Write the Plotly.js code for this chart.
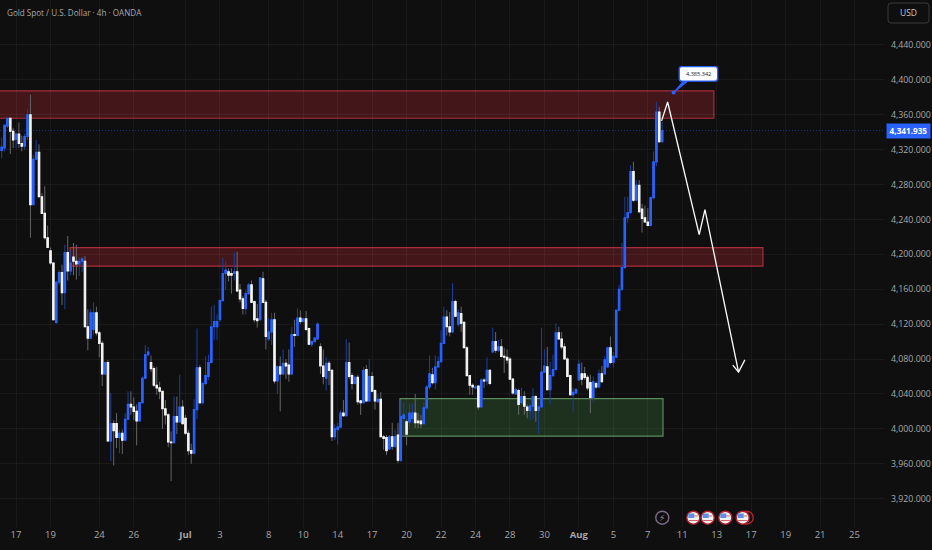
<!DOCTYPE html>
<html><head><meta charset="utf-8">
<script src="https://cdn.plot.ly/plotly-3.0.1.min.js"></script>
<style>html,body{margin:0;padding:0;background:#0f0f0f}#c{width:932px;height:550px}</style>
</head><body><div id="c"></div>
<script>
const open=[4319,4322,4347,4356,4341,4332,4338,4327,4324,4335,
4360,4257,4309,4317,4266,4247,4219,4204,4190,4122,
4168,4179,4156,4202,4181,4197,4192,4189,4192,4192,
4117,4104,4114,4133,4110,4098,4063,4076,3986,4006,
4006,3990,3995,3987,4011,4028,4025,4020,4009,4030,
4058,4085,4076,4069,4050,4047,4043,4023,4016,3985,
3984,4014,4008,4025,4012,3995,3975,3972,4022,4070,
4030,4052,4060,4076,4117,4117,4125,4147,4178,4180,
4178,4178,4180,4159,4149,4138,4155,4165,4146,4126,
4125,4172,4145,4103,4111,4125,4055,4071,4063,4075,
4073,4063,4108,4107,4127,4123,4126,4115,4097,4100,
4103,4094,4072,4058,4075,4067,3991,3999,4002,4018,
4015,4076,4061,4052,4059,4032,4030,4068,4032,4060,
4044,4031,4034,3991,3990,3977,3991,3980,3993,3964,
4012,4008,4008,4012,4018,4009,4009,4006,4024,4048,
4062,4053,4071,4077,4098,4128,4117,4111,4146,4120,
4132,4122,4093,4061,4050,4047,4049,4025,4056,4055,
4067,4088,4100,4090,4094,4083,4082,4080,4057,4040,
4044,4030,4037,4025,4021,4026,4037,4021,4025,4065,
4071,4045,4061,4068,4110,4103,4094,4080,4061,4039,
4041,4056,4063,4063,4059,4053,4036,4052,4048,4063,
4063,4071,4093,4076,4082,4136,4160,4185,4242,4248,
4295,4262,4279,4252,4242,4237,4233,4265,4306,4363,
4329];
const high=[4334,4349,4356,4356,4345,4339,4351,4336,4338,4367,
4383,4314,4331,4326,4270,4278,4233,4208,4191,4170,
4182,4188,4211,4221,4205,4213,4211,4197,4197,4198,
4137,4137,4145,4140,4112,4101,4077,4079,4041,4010,
4018,3999,3999,4018,4043,4043,4036,4028,4030,4060,
4096,4094,4084,4072,4071,4054,4043,4033,4018,3997,
4037,4037,4062,4033,4016,3999,3983,4034,4115,4073,
4054,4083,4085,4140,4142,4131,4148,4196,4192,4184,
4184,4202,4203,4166,4152,4159,4167,4170,4147,4143,
4174,4180,4148,4127,4133,4133,4073,4083,4091,4080,
4091,4117,4125,4138,4136,4127,4135,4116,4101,4105,
4122,4098,4091,4082,4078,4068,4005,4007,4021,4033,
4103,4099,4064,4061,4062,4033,4071,4073,4080,4065,
4045,4040,4042,3993,3993,3993,4007,3999,4007,4033,
4030,4010,4029,4029,4040,4018,4016,4030,4050,4084,
4070,4084,4083,4113,4140,4136,4134,4167,4148,4137,
4140,4123,4095,4062,4052,4050,4050,4058,4058,4082,
4068,4116,4111,4102,4103,4093,4091,4082,4058,4047,
4046,4047,4043,4028,4028,4047,4039,4027,4116,4091,
4094,4077,4085,4121,4117,4111,4098,4082,4062,4047,
4047,4079,4076,4071,4062,4062,4060,4054,4068,4072,
4083,4094,4106,4088,4137,4165,4213,4266,4266,4302,
4306,4285,4285,4258,4256,4253,4265,4318,4375,4369,
4352];
const low=[4310,4318,4345,4315,4322,4322,4322,4318,4320,4331,
4219,4257,4308,4266,4247,4217,4208,4188,4125,4120,
4165,4142,4137,4170,4176,4176,4171,4175,4180,4117,
4090,4103,4108,4107,4082,4049,4062,3986,3963,3958,
3978,3972,3971,3986,4010,4016,4010,3981,4008,4029,
4057,4083,4065,4048,4039,4034,4000,4005,3979,3940,
3983,3994,4007,4005,3993,3970,3960,3971,4011,4028,
4028,4050,4056,4075,4102,4102,4123,4147,4159,4169,
4155,4170,4157,4145,4131,4131,4154,4144,4122,4116,
4124,4145,4091,4101,4096,4052,4040,4020,4062,4057,
4054,4062,4094,4106,4120,4122,4112,4097,4094,4100,
4102,4063,4051,4044,4050,3986,3987,3982,4001,4014,
4014,4057,4045,4051,4028,4016,4029,4031,4031,4042,
4022,4030,3990,3976,3970,3976,3976,3978,3961,3962,
3992,3981,4002,4007,4001,4001,4001,4005,4023,4045,
4051,4045,4070,4076,4097,4107,4106,4110,4128,4117,
4111,4093,4061,4039,4039,4046,4022,4025,4047,4050,
4050,4088,4087,4088,4082,4064,4075,4056,4039,4039,
4016,4028,4016,4012,4010,4011,4008,3995,4024,4064,
4044,4028,4060,4067,4102,4091,4079,4059,4038,4020,
4040,4055,4050,4056,4044,4018,4030,4046,4047,4053,
4062,4070,4074,4070,4081,4135,4158,4183,4236,4246,
4260,4261,4247,4225,4236,4232,4233,4263,4301,4328,
4328];
const close=[4323,4348,4356,4341,4331,4338,4327,4324,4335,4360,
4257,4309,4317,4266,4247,4219,4208,4190,4125,4168,
4179,4156,4202,4181,4190,4192,4189,4192,4195,4117,
4104,4133,4133,4110,4098,4063,4076,3986,4006,3998,
3990,3995,3987,4011,4028,4025,4020,4009,4030,4058,
4085,4088,4069,4050,4047,4043,4023,4016,3985,3984,
4014,4008,4025,4006,3995,3975,3972,4022,4070,4030,
4052,4061,4076,4117,4123,4123,4147,4178,4182,4176,
4176,4180,4158,4149,4138,4155,4165,4145,4125,4124,
4173,4145,4106,4111,4125,4055,4071,4063,4075,4072,
4063,4108,4107,4127,4123,4126,4114,4097,4100,4104,
4120,4072,4060,4075,4067,3991,4000,4002,4018,4015,
4076,4060,4052,4059,4031,4030,4067,4032,4060,4043,
4032,4034,3991,3989,3975,3991,3980,3991,3964,4014,
4016,3994,4018,4018,4007,4007,4006,4024,4048,4063,
4053,4071,4077,4098,4128,4117,4111,4146,4129,4133,
4121,4093,4061,4050,4048,4048,4025,4056,4055,4067,
4052,4100,4090,4094,4083,4082,4079,4057,4041,4045,
4028,4037,4026,4021,4026,4037,4021,4025,4065,4072,
4045,4061,4068,4110,4103,4094,4080,4060,4039,4042,
4045,4074,4057,4059,4047,4036,4054,4048,4063,4054,
4079,4093,4076,4083,4136,4160,4185,4242,4248,4295,
4262,4279,4249,4241,4237,4233,4265,4306,4363,4329,
4342];

const priceTicks=[3920,3960,4000,4040,4080,4120,4160,4200,4240,4280,4320,4360,4400,4440];
const timeTickPos=[5,17,34,46,64,76,93,105,117,129,141,153,165,177,189,201,213,225,237,249,261,273,285,297];
const timeTickText=['17','19','24','26','<b>Jul</b>','3','8','10','14','17','20','22','24','28','30','<b>Aug</b>','5','7','11','13','17','19','21','25'];
const lastPrice=4341.935;
const calloutPos=234, calloutPrice=4385.342;
const zoneX0=[-1,23.8,138.7], zoneX1=[248,265.1,230.3];
const zoneLo=[4356,4186.4,3991.6], zoneHi=[4387.4,4207.6,4034.6];
const pathX=[229.8,231.9,242.9,244.9,256.6,null,254.6,256.6,258.8];
const pathY=[4353,4374.6,4222.7,4251.3,4065,null,4073,4065,4079];

const idx=open.map((_,i)=>i);
const BLUE='#2962ff';
const W=885,H=527;
const shapes=[];
const zoneFill=['rgba(178,40,51,0.32)','rgba(178,40,51,0.32)','rgba(76,150,76,0.25)'];
const zoneLine=['#a82c3a','#a82c3a','#5b8a5b'];
zoneX0.forEach((x,i)=>shapes.push({type:'rect',layer:'below',x0:x,x1:zoneX1[i],y0:zoneLo[i],y1:zoneHi[i],
  fillcolor:zoneFill[i],line:{color:zoneLine[i],width:1.2}}));
shapes.push({type:'line',layer:'below',xref:'paper',x0:0,x1:1,y0:lastPrice,y1:lastPrice,line:{color:'rgba(41,98,255,0.45)',width:1,dash:'1px,2px'}});
// USD box
shapes.push({type:'path',xref:'paper',yref:'paper',xsizemode:'pixel',ysizemode:'pixel',xanchor:1,yanchor:1,
  path:'M 6 -3 H 41 Q 44 -3 44 -6 V -20 Q 44 -23 41 -23 H 6 Q 3 -23 3 -20 V -6 Q 3 -3 6 -3 Z',
  line:{color:'#3a3a3a',width:1},fillcolor:'rgba(0,0,0,0)'});
// callout leader and rounded box, positioned relative to the anchored point
shapes.push({type:'path',xref:'x',yref:'y',xsizemode:'pixel',ysizemode:'pixel',xanchor:calloutPos,yanchor:calloutPrice,
  path:'M -0.5 -0.5 L 10 12 L 15 12 Z',line:{color:BLUE,width:1},fillcolor:BLUE});
shapes.push({type:'path',xref:'x',yref:'y',xsizemode:'pixel',ysizemode:'pixel',xanchor:calloutPos,yanchor:calloutPrice,
  path:'M 8 11.5 H 41.5 Q 44 11.5 44 14 V 23.5 Q 44 26 41.5 26 H 8 Q 5.6 26 5.6 23.5 V 14 Q 5.6 11.5 8 11.5 Z',
  line:{color:BLUE,width:1.4},fillcolor:'#ffffff'});
// event markers
function ring(px,col,fill){shapes.push({type:'circle',xref:'paper',yref:'paper',xsizemode:'pixel',ysizemode:'pixel',
  xanchor:px/W,yanchor:0,x0:-6.5,x1:6.5,y0:2.8,y1:15.8,line:{color:col,width:1.4},fillcolor:fill});}
ring(662.3,'#7c6a86','rgba(0,0,0,0)');
ring(746.7,'#b3202c','#0f0f0f');
[693.3,707.7,725.3,742.7].forEach(px=>{
  ring(px,'#b3202c','#f2f2f2');
  const b=(x0,x1,y0,y1,c)=>shapes.push({type:'rect',xref:'paper',yref:'paper',xsizemode:'pixel',ysizemode:'pixel',
    xanchor:px/W,yanchor:0,x0,x1,y0,y1,line:{width:0},fillcolor:c});
  b(-5,1,9,13.5,'#5a8fe6');
  b(1,4.5,10.5,11.5,'#d9606a');
  b(-4.5,4.5,6,7,'#d9606a');
});

const annotations=[
 {xref:'paper',yref:'paper',x:5/W,y:1-13/H,xanchor:'left',yanchor:'middle',showarrow:false,
  text:'Gold Spot / U.S. Dollar · 4h · OANDA',font:{family:'Open Sans',size:8.1,color:'#a8a8a8'}},
 {xref:'paper',yref:'paper',x:908.5/W,y:1-13/H,xanchor:'center',yanchor:'middle',showarrow:false,
  text:'USD',font:{family:'Open Sans',size:8.5,color:'#c8c8c8'}},
 {xref:'paper',yref:'y',x:885.7/W,y:lastPrice,xanchor:'left',yanchor:'middle',showarrow:false,width:41,height:11.5,
  bgcolor:BLUE,borderpad:1,text:'<b>4,341.935</b>',font:{family:'Open Sans',size:8.2,color:'#ffffff'}},
 {xref:'x',yref:'y',x:calloutPos,y:calloutPrice,xshift:24.8,yshift:18.8,showarrow:false,xanchor:'center',yanchor:'middle',
  text:'4,385.342',font:{family:'Open Sans',size:5.6,color:'#131722'}},
 {xref:'paper',yref:'paper',x:662.3/W,y:9.3/H,xanchor:'center',yanchor:'middle',showarrow:false,
  text:'⚡',font:{family:'DejaVu Sans',size:9,color:'#9a9a9a'}}
];

const traces=[
 {type:'candlestick',x:idx,open,high,low,close,whiskerwidth:0,hoverinfo:'skip',
  increasing:{line:{color:'#1d3f9e',width:1},fillcolor:'#1d3f9e'},
  decreasing:{line:{color:'#666666',width:1},fillcolor:'#666666'},showlegend:false},
 {type:'candlestick',x:idx,open,close,
  high:open.map((o,i)=>Math.max(o,close[i])),low:open.map((o,i)=>Math.min(o,close[i])),
  whiskerwidth:0,hoverinfo:'skip',showlegend:false,
  increasing:{line:{color:BLUE,width:1.1},fillcolor:BLUE},
  decreasing:{line:{color:'#f5f5f5',width:1.1},fillcolor:'#f5f5f5'}},
 {type:'scatter',mode:'lines',x:pathX,y:pathY,hoverinfo:'skip',showlegend:false,line:{color:'#ffffff',width:1.3}},
 {type:'scatter',mode:'markers',x:[calloutPos],y:[calloutPrice],hoverinfo:'skip',showlegend:false,marker:{color:BLUE,size:4}}
];
const layout={
 width:932,height:550,margin:{l:0,r:47,t:0,b:23},paper_bgcolor:'#0f0f0f',plot_bgcolor:'#0f0f0f',showlegend:false,
 xaxis:{range:[-0.59,307.6],rangeslider:{visible:false},tickmode:'array',tickvals:timeTickPos,ticktext:timeTickText,
  showgrid:true,gridcolor:'rgba(255,255,255,0.045)',gridwidth:1,zeroline:false,showline:false,ticks:'',
  tickfont:{family:'Open Sans',size:9.5,color:'#a8a8a8'}},
 yaxis:{side:'right',range:[3887.5,4491.5],tickmode:'array',tickvals:priceTicks,tickformat:',.3f',
  showgrid:true,gridcolor:'rgba(255,255,255,0.045)',gridwidth:1,zeroline:false,showline:false,ticks:'',ticklabelstandoff:5,
  tickfont:{family:'Open Sans',size:8.8,color:'#a8a8a8'}},
 shapes,annotations
};
Plotly.newPlot('c',traces,layout,{displayModeBar:false,staticPlot:true});
</script></body></html>
